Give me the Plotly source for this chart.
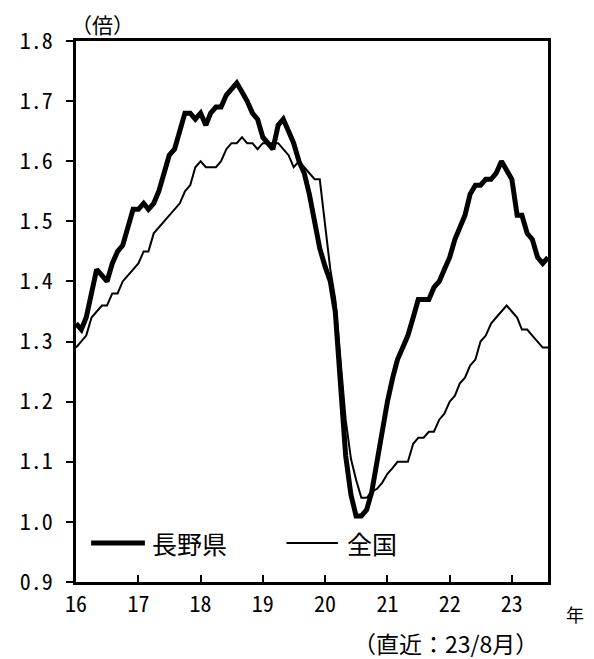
import pandas as pd
import plotly.graph_objects as go

# Monthly data, Jan 2016 - Aug 2023
months = pd.date_range("2016-01-01", periods=92, freq="MS")

nagano = [
    # 2016
    1.33, 1.32, 1.34, 1.38, 1.42, 1.41, 1.40, 1.43, 1.45, 1.46, 1.49, 1.52,
    # 2017
    1.52, 1.53, 1.52, 1.53, 1.55, 1.58, 1.61, 1.62, 1.65, 1.68, 1.68, 1.67,
    # 2018
    1.68, 1.66, 1.68, 1.69, 1.69, 1.71, 1.72, 1.73, 1.715, 1.70, 1.68, 1.67,
    # 2019
    1.64, 1.63, 1.62, 1.66, 1.67, 1.65, 1.63, 1.60, 1.58, 1.545, 1.50, 1.455,
    # 2020
    1.425, 1.40, 1.35, 1.23, 1.11, 1.045, 1.01, 1.01, 1.02, 1.05, 1.10, 1.16,
    # 2021
    1.20, 1.24, 1.27, 1.29, 1.31, 1.34, 1.37, 1.37, 1.37, 1.39, 1.40, 1.42,
    # 2022
    1.44, 1.47, 1.49, 1.51, 1.545, 1.56, 1.56, 1.57, 1.57, 1.58, 1.60, 1.585,
    # 2023
    1.57, 1.51, 1.51, 1.48, 1.47, 1.44, 1.43, 1.44,
]

national = [
    # 2016
    1.29, 1.30, 1.31, 1.34, 1.35, 1.36, 1.36, 1.38, 1.38, 1.40, 1.41, 1.42,
    # 2017
    1.43, 1.45, 1.45, 1.48, 1.49, 1.50, 1.51, 1.52, 1.53, 1.55, 1.56, 1.59,
    # 2018
    1.60, 1.59, 1.59, 1.59, 1.60, 1.62, 1.63, 1.63, 1.64, 1.63, 1.63, 1.62,
    # 2019
    1.63, 1.63, 1.63, 1.63, 1.62, 1.61, 1.59, 1.60, 1.59, 1.58, 1.57, 1.57,
    # 2020
    1.49, 1.42, 1.37, 1.27, 1.17, 1.105, 1.07, 1.04, 1.04, 1.05, 1.055, 1.065,
    # 2021
    1.08, 1.09, 1.10, 1.10, 1.10, 1.13, 1.14, 1.14, 1.15, 1.15, 1.17, 1.18,
    # 2022
    1.20, 1.21, 1.23, 1.24, 1.26, 1.27, 1.30, 1.31, 1.33, 1.34, 1.35, 1.36,
    # 2023
    1.35, 1.34, 1.32, 1.32, 1.31, 1.30, 1.29, 1.29,
]

year_ticks = pd.date_range("2016-01-01", "2023-01-01", freq="YS")
year_labels = ["16", "17", "18", "19", "20", "21", "22", "23"]
y_ticks = [0.9, 1.0, 1.1, 1.2, 1.3, 1.4, 1.5, 1.6, 1.7, 1.8]

series_names = ["長野県", "全国"]

CJK = "Noto Sans CJK JP"
NUM = "Noto Sans Mono CJK JP, DejaVu Sans Mono, monospace"

fig = go.Figure()
fig.add_trace(go.Scatter(x=months, y=national, mode="lines", name=series_names[1],
                         line=dict(color="black", width=2), showlegend=False))
fig.add_trace(go.Scatter(x=months, y=nagano, mode="lines", name=series_names[0],
                         line=dict(color="black", width=5), showlegend=False))

# page body adds an 8px margin; size the figure to compensate
fig.update_layout(
    width=586, height=651,
    margin=dict(l=62, r=46, t=33, b=77),
    paper_bgcolor="white", plot_bgcolor="white",
    showlegend=False,
)
fig.update_xaxes(
    range=[months[0], months[-1]],
    tickvals=year_ticks, ticktext=year_labels,
    ticks="inside", ticklen=7, tickwidth=2, tickcolor="black",
    showline=True, linecolor="black", linewidth=2.5, mirror=True,
    showgrid=False, zeroline=False,
    tickfont=dict(family=NUM, size=22, color="black"),
    ticklabelstandoff=1,
)
fig.update_yaxes(
    range=[0.9, 1.8],
    tickvals=y_ticks, tickformat=".1f",
    ticks="outside", ticklen=7, tickwidth=2, tickcolor="black",
    showline=True, linecolor="black", linewidth=2.5, mirror=True,
    showgrid=False, zeroline=False,
    tickfont=dict(family=NUM, size=22, color="black"),
    ticklabelstandoff=9,
)

# Manual legend inside plot area (bottom-left)
leg_y = 0.072
fig.add_shape(type="line", xref="paper", yref="paper", x0=0.032, x1=0.146, y0=leg_y, y1=leg_y,
              line=dict(color="black", width=5))
fig.add_annotation(xref="paper", yref="paper", x=0.156, y=leg_y, text=series_names[0],
                   showarrow=False, xanchor="left", yanchor="middle",
                   font=dict(family=CJK, size=25, color="black"))
fig.add_shape(type="line", xref="paper", yref="paper", x0=0.446, x1=0.555, y0=leg_y, y1=leg_y,
              line=dict(color="black", width=2))
fig.add_annotation(xref="paper", yref="paper", x=0.569, y=leg_y, text=series_names[1],
                   showarrow=False, xanchor="left", yanchor="middle",
                   font=dict(family=CJK, size=25, color="black"))

# Unit and notes
fig.add_annotation(x=0.0, y=1.0314, xref="paper", yref="paper", text="（倍）",
                   showarrow=False, xanchor="left", yanchor="middle",
                   xshift=-7,
                   font=dict(family=CJK, size=21, color="black"))
fig.add_annotation(x=1.0575, y=-0.060, xref="paper", yref="paper", text="年",
                   showarrow=False, xanchor="center", yanchor="middle",
                   font=dict(family=CJK, size=18, color="black"))
fig.add_annotation(x=0.782, y=-0.1128, xref="paper", yref="paper", text="（直近：23/8月）",
                   showarrow=False, xanchor="center", yanchor="middle",
                   font=dict(family=CJK, size=23, color="black"))

fig.write_html("out.html")
